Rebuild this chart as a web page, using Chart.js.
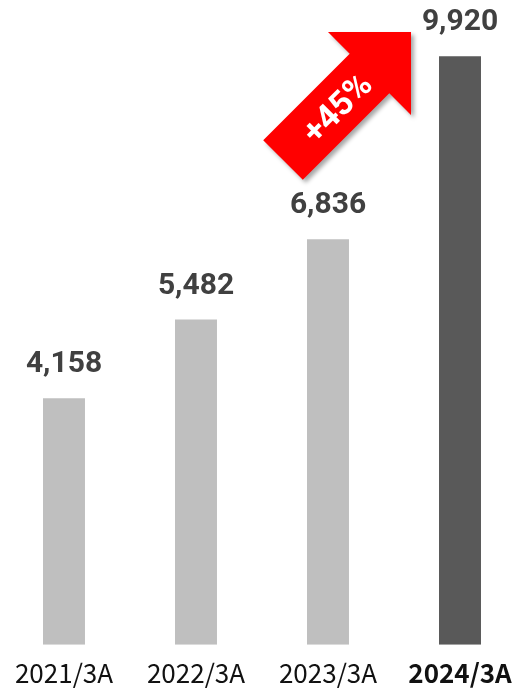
<!DOCTYPE html>
<html>
<head>
<meta charset="utf-8">
<script src="https://cdn.jsdelivr.net/npm/chart.js@4/dist/chart.umd.min.js"></script>
<style>
  html, body { margin: 0; padding: 0; background: #fff; overflow: hidden; }
  #wrap { position: absolute; left: -2px; top: 0; width: 528px; height: 702px; }
</style>
</head>
<body>
<div id="wrap"><canvas id="chart"></canvas></div>
<script>
// Fiscal periods and the figure for each one.
const periods = ["2021/3A", "2022/3A", "2023/3A", "2024/3A"];
const amounts = [4158, 5482, 6836, 9920];
const barColors = ["#BFBFBF", "#BFBFBF", "#BFBFBF", "#595959"];
const growthLabel = "+45%";

const fmt = (v) => v.toLocaleString("en-US");

// Number above each bar.
const valueLabels = {
    id: "valueLabels",
    afterDatasetsDraw(chart) {
        const { ctx } = chart;
        const meta = chart.getDatasetMeta(0);
        ctx.save();
        ctx.fillStyle = "#404040";
        ctx.font = "bold 30px Roboto, 'Noto Sans', sans-serif";
        ctx.textAlign = "center";
        ctx.textBaseline = "alphabetic";
        meta.data.forEach((bar, i) => {
            ctx.fillText(fmt(amounts[i]), bar.x, bar.y - 26);
        });
        ctx.restore();
    },
};

// Red growth arrow between the last two bars.
const growthArrow = {
    id: "growthArrow",
    afterDraw(chart) {
        const { ctx } = chart;
        const tipX = 413, tipY = 32;
        const head = 58.7, headHalf = 58.7, shaftHalf = 28, len = 181;
        ctx.save();
        ctx.translate(tipX, tipY);
        ctx.rotate(-Math.PI / 4);
        ctx.beginPath();
        ctx.moveTo(0, 0);
        ctx.lineTo(-head, -headHalf);
        ctx.lineTo(-head, -shaftHalf);
        ctx.lineTo(-len, -shaftHalf);
        ctx.lineTo(-len, shaftHalf);
        ctx.lineTo(-head, shaftHalf);
        ctx.lineTo(-head, headHalf);
        ctx.closePath();
        ctx.shadowColor = "rgba(0,0,0,0.35)";
        ctx.shadowBlur = 4;
        ctx.shadowOffsetX = 3;
        ctx.shadowOffsetY = 3;
        ctx.fillStyle = "#FF0000";
        ctx.fill();
        ctx.shadowColor = "transparent";
        ctx.fillStyle = "#FFFFFF";
        ctx.font = "bold 34px Roboto, 'Noto Sans', sans-serif";
        ctx.textAlign = "center";
        ctx.textBaseline = "middle";
        ctx.fillText(growthLabel, -106, 4);
        ctx.restore();
    },
};

new Chart(document.getElementById("chart"), {
    type: "bar",
    data: {
        labels: periods,
        datasets: [{
            data: amounts,
            backgroundColor: barColors,
            barPercentage: 0.318,
            categoryPercentage: 1,
        }],
    },
    options: {
        responsive: true,
        maintainAspectRatio: false,
        animation: false,
        layout: { padding: 0 },
        plugins: { legend: { display: false }, tooltip: { enabled: false } },
        scales: {
            x: {
                grid: { display: false, drawTicks: false },
                border: { display: false },
                ticks: {
                    padding: 13,
                    color: "#111",
                    font: (c) => ({
                        family: "'Noto Sans CJK JP', sans-serif",
                        size: 26,
                        weight: c.index === 3 ? "bold" : "normal",
                    }),
                },
            },
            y: { display: false, min: 0, max: 10870 },
        },
    },
    plugins: [valueLabels, growthArrow],
});
</script>
</body>
</html>
